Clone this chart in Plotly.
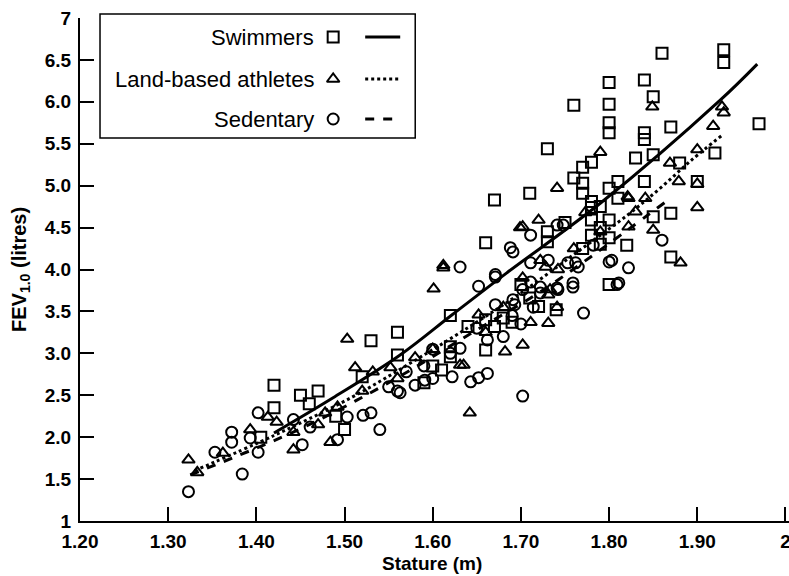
import plotly.graph_objects as go

# ---------------- data ----------------
swim_x = [1.42, 1.42, 1.45, 1.47, 1.46, 1.405, 1.50, 1.49, 1.52, 1.53, 1.56, 1.56, 1.62, 1.64, 1.66,
          1.67, 1.69, 1.66, 1.62, 1.62, 1.61, 1.70, 1.71, 1.74, 1.66, 1.67, 1.71, 1.73, 1.76, 1.80,
          1.80, 1.80, 1.80, 1.84, 1.86, 1.93, 1.93, 1.97, 1.85, 1.84, 1.84, 1.87, 1.83, 1.85, 1.88,
          1.92, 1.90, 1.84, 1.77, 1.78, 1.77, 1.80, 1.81, 1.81, 1.78, 1.78, 1.80, 1.85, 1.87, 1.82,
          1.78, 1.87, 1.80, 1.76, 1.77, 1.78, 1.79, 1.75, 1.73, 1.73, 1.79, 1.80, 1.72, 1.68, 1.60,
          1.59, 1.77, 1.79]
swim_y = [2.62, 2.35, 2.50, 2.55, 2.40, 2.00, 2.09, 2.25, 2.72, 3.15, 3.25, 2.98, 3.45, 3.32, 3.40,
          3.32, 3.37, 3.04, 3.08, 2.96, 2.80, 3.82, 3.66, 3.52, 4.32, 4.83, 4.91, 5.44, 5.96, 5.97,
          6.23, 5.75, 5.63, 6.26, 6.58, 6.62, 6.47, 5.74, 6.06, 5.63, 5.55, 5.70, 5.33, 5.37, 5.27,
          5.39, 5.05, 5.05, 5.22, 5.28, 5.03, 4.97, 5.05, 4.85, 4.81, 4.59, 4.59, 4.63, 4.67, 4.29,
          4.41, 4.15, 3.82, 5.09, 4.91, 4.74, 4.75, 4.56, 4.33, 4.45, 4.50, 4.38, 3.56, 3.42, 2.85,
          2.65, 4.25, 4.30]

land_x = [1.323, 1.333, 1.362, 1.393, 1.413, 1.423, 1.442, 1.442, 1.484, 1.492, 1.478, 1.612, 1.612,
          1.601, 1.503, 1.512, 1.532, 1.552, 1.635, 1.652, 1.642, 1.682, 1.702, 1.711, 1.731, 1.731,
          1.741, 1.631, 1.741, 1.790, 1.702, 1.720, 1.733, 1.728, 1.822, 1.773, 1.849, 1.928, 1.930,
          1.918, 1.900, 1.869, 1.879, 1.900, 1.850, 1.881, 1.821, 1.841, 1.830, 1.822, 1.900, 1.699,
          1.722, 1.742, 1.702, 1.60, 1.58, 1.56, 1.47, 1.52, 1.66, 1.68, 1.76, 1.79]
land_y = [1.73, 1.58, 1.81, 2.09, 2.24, 2.18, 2.06, 1.85, 1.94, 2.36, 2.29, 4.02, 4.05,
          3.77, 3.17, 2.83, 2.78, 2.83, 2.86, 3.46, 2.29, 3.02, 3.10, 3.37, 3.70, 3.36,
          3.55, 2.86, 4.97, 5.40, 4.51, 4.59, 3.76, 4.03, 4.85, 4.68, 5.94, 5.94, 5.87,
          5.71, 5.43, 5.27, 5.05, 4.74, 4.47, 4.08, 4.87, 4.85, 4.69, 4.51, 5.02, 4.50,
          4.11, 4.00, 3.90, 3.05, 2.95, 2.70, 2.15, 2.55, 3.25, 3.55, 4.25, 4.45]

sed_x = [1.323, 1.353, 1.372, 1.372, 1.384, 1.402, 1.393, 1.402, 1.442, 1.452, 1.461, 1.503, 1.521,
         1.492, 1.53, 1.54, 1.631, 1.652, 1.671, 1.671, 1.662, 1.643, 1.652, 1.662, 1.622, 1.563,
         1.591, 1.771, 1.702, 1.722, 1.742, 1.759, 1.809, 1.631, 1.691, 1.671, 1.691, 1.711, 1.741,
         1.762, 1.741, 1.811, 1.782, 1.803, 1.822, 1.860, 1.800, 1.711, 1.748, 1.731, 1.753, 1.765,
         1.759, 1.702, 1.722, 1.711, 1.693, 1.714, 1.688, 1.56, 1.58, 1.60, 1.59, 1.62, 1.60, 1.57,
         1.55, 1.65, 1.68, 1.69, 1.70]
sed_y = [1.35, 1.82, 2.06, 1.94, 1.56, 2.29, 1.99, 1.82, 2.21, 1.91, 2.12, 2.24, 2.26,
         1.97, 2.29, 2.09, 4.03, 3.80, 3.91, 3.58, 3.16, 2.66, 2.71, 2.76, 2.72, 2.53,
         2.68, 3.48, 2.49, 3.79, 3.76, 3.79, 3.82, 3.06, 3.64, 3.94, 4.21, 4.08, 4.53,
         4.08, 3.78, 3.84, 4.29, 4.11, 4.02, 4.35, 4.09, 4.41, 4.53, 4.11, 4.08, 4.03,
         3.84, 3.76, 3.72, 3.85, 3.58, 3.55, 4.26, 2.55, 2.62, 2.70, 2.85, 3.00, 3.05, 2.78,
         2.60, 3.30, 3.20, 3.45, 3.35]

# regression lines
swim_fit_x = [1.42, 1.487, 1.563, 1.622, 1.684, 1.79, 1.926, 1.968]
swim_fit_y = [2.05, 2.47, 2.98, 3.46, 3.96, 4.79, 6.02, 6.45]
land_fit_x = [1.33, 1.42, 1.509, 1.571, 1.633, 1.70, 1.764, 1.821, 1.858, 1.894, 1.928]
land_fit_y = [1.60, 2.02, 2.48, 2.86, 3.26, 3.72, 4.21, 4.65, 4.97, 5.31, 5.60]
sed_fit_x = [1.325, 1.45, 1.55, 1.65, 1.72, 1.779, 1.867]
sed_fit_y = [1.55, 2.10, 2.65, 3.28, 3.72, 4.15, 4.83]

x_ticks = [1.2, 1.3, 1.4, 1.5, 1.6, 1.7, 1.8, 1.9, 2.0]
x_ticktext = ["1.20", "1.30", "1.40", "1.50", "1.60", "1.70", "1.80", "1.90", "2"]
y_ticks = [1, 1.5, 2, 2.5, 3, 3.5, 4, 4.5, 5, 5.5, 6, 6.5, 7]
y_ticktext = ["1", "1.5", "2.0", "2.5", "3.0", "3.5", "4.0", "4.5", "5.0", "5.5", "6.0", "6.5", "7"]

legend_names = ["Swimmers", "Land-based athletes", "Sedentary"]
legend_symbols = ["square-open", "triangle-up-open", "circle-open"]
legend_dash = ["solid", "dot", "dash"]

# ---------------- figure ----------------
W, H = 789, 576
X0, X1 = 1.2, 2.004           # x range
L, T, B = 80, 18, 55
PLOT_W = 705 * (X1 - X0) / 0.8   # keep 0.1 m = 88 px, 2.0 at x=785
R = W - L - PLOT_W
FONT = "Liberation Sans, Arial, sans-serif"

def px_x(p):
    return (p - L) / PLOT_W

def px_y(p):
    return (H - B - p) / (H - T - B)

fig = go.Figure()
mk = dict(color="black", size=11, line=dict(color="black", width=2))

groups = [(swim_x, swim_y, "square-open"), (land_x, land_y, "triangle-up-open"), (sed_x, sed_y, "circle-open")]
for gx, gy, sym in groups:
    fig.add_trace(go.Scatter(x=gx, y=gy, mode="markers", showlegend=False,
                             marker=dict(symbol=sym, **mk), cliponaxis=False))

fits = [(swim_fit_x, swim_fit_y, "solid"), (land_fit_x, land_fit_y, "dot"), (sed_fit_x, sed_fit_y, "dash")]
for fx, fy, dash in fits:
    fig.add_trace(go.Scatter(x=fx, y=fy, mode="lines", showlegend=False,
                             line=dict(color="black", width=3, dash=dash, shape="spline")))

# custom legend (text, then marker, then line sample) on a hidden overlay axis
row_px = [37, 79, 119]
for name, sym, dash, ry in zip(legend_names, legend_symbols, legend_dash, row_px):
    yy = px_y(ry)
    fig.add_trace(go.Scatter(x=[px_x(333)], y=[yy], xaxis="x2", yaxis="y2", mode="markers",
                             showlegend=False, cliponaxis=False,
                             marker=dict(symbol=sym, **mk)))
    fig.add_trace(go.Scatter(x=[px_x(365), px_x(400)], y=[yy, yy], xaxis="x2", yaxis="y2",
                             mode="lines", showlegend=False, cliponaxis=False,
                             line=dict(color="black", width=3, dash=dash)))
    fig.add_annotation(x=px_x(316), y=yy, xref="paper", yref="paper", text=name,
                       showarrow=False, xanchor="right", yanchor="middle",
                       font=dict(family=FONT, size=22, color="black"))

fig.add_shape(type="rect", xref="paper", yref="paper",
              x0=px_x(100), x1=px_x(415), y0=px_y(138), y1=px_y(14),
              line=dict(color="black", width=1.5), fillcolor="rgba(0,0,0,0)")

# axis titles as annotations for exact placement
fig.add_annotation(x=px_x(432), y=px_y(563), xref="paper", yref="paper", text="Stature (m)",
                   showarrow=False, xanchor="center", yanchor="middle",
                   font=dict(family=FONT, size=19, color="black", weight="bold"))
fig.add_annotation(x=px_x(20), y=px_y(269), xref="paper", yref="paper",
                   text="FEV<sub>1.0</sub> (litres)", textangle=-90,
                   showarrow=False, xanchor="center", yanchor="middle",
                   font=dict(family=FONT, size=20, color="black", weight="bold"))

axis_common = dict(showgrid=False, zeroline=False, showline=True, linecolor="black", linewidth=2,
                   ticks="inside", ticklen=14, tickwidth=1.5, tickcolor="black", automargin=False,
                   tickfont=dict(family=FONT, size=19, color="black", weight="bold"))

fig.update_layout(
    width=W, height=H,
    margin=dict(l=L, r=R, t=T, b=B),
    paper_bgcolor="white", plot_bgcolor="white",
    xaxis=dict(range=[X0, X1], tickvals=x_ticks, ticktext=x_ticktext, ticklabelstandoff=2,
               ticklabeloverflow="allow", **axis_common),
    yaxis=dict(range=[1, 7], tickvals=y_ticks, ticktext=y_ticktext, ticklabelstandoff=3,
               ticklabeloverflow="allow", **axis_common),
    xaxis2=dict(range=[0, 1], overlaying="x", visible=False),
    yaxis2=dict(range=[0, 1], overlaying="y", visible=False),
    showlegend=False,
)

fig.write_html("out.html", config={"displayModeBar": False},
               post_script="document.body.style.margin='0px';document.body.style.overflow='hidden';")
